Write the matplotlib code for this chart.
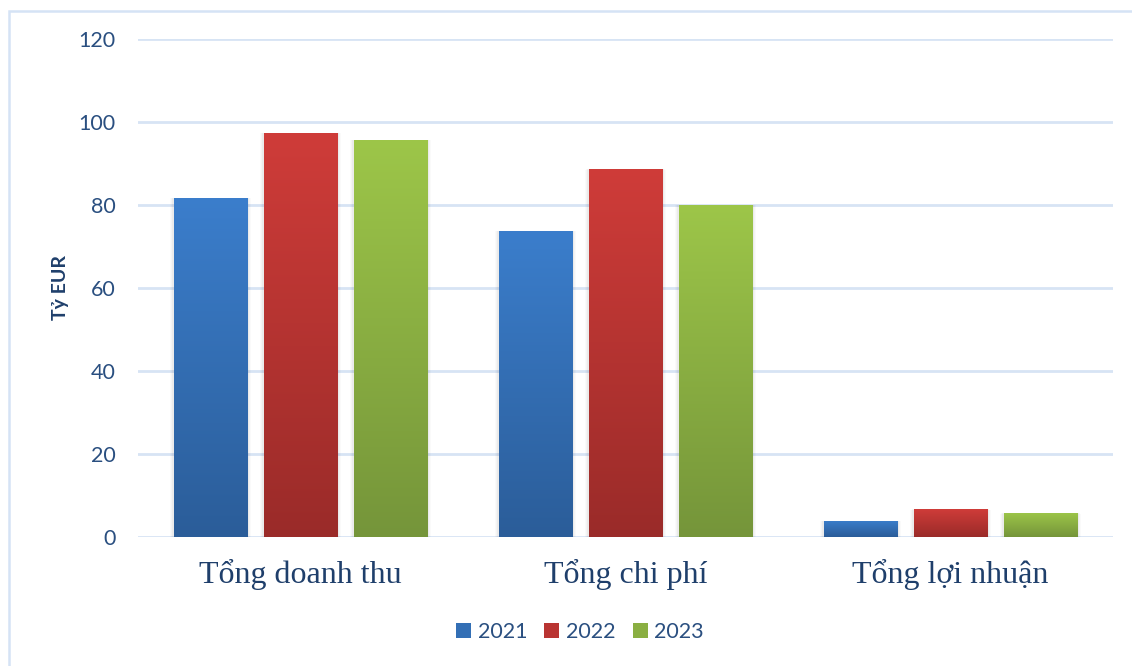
import numpy as np
import matplotlib
matplotlib.use("Agg")
import matplotlib.pyplot as plt
from matplotlib.patches import Rectangle, Patch
import matplotlib.colors as mcolors

categories = ["Tổng doanh thu", "Tổng chi phí", "Tổng lợi nhuận"]
years = ["2021", "2022", "2023"]
values_2021 = [81.8, 73.8, 3.9]
values_2022 = [97.4, 88.7, 6.7]
values_2023 = [95.7, 80.1, 5.8]
yticks = [0, 20, 40, 60, 80, 100, 120]
ylabel = "Tỷ EUR"

series = [values_2021, values_2022, values_2023]
top_colors = ["#3b7ecc", "#cf3c39", "#9dc649"]
bot_colors = ["#2b5d99", "#9a2b29", "#75953a"]

W, H = 1132, 666
fig = plt.figure(figsize=(W / 100, H / 100), dpi=100)
fig.patch.set_facecolor("white")

# outer chart border
fig.add_artist(Rectangle((8.5 / W, -0.02), 1.05, 1 - 10.5 / H + 0.02,
                         transform=fig.transFigure, fill=False,
                         edgecolor="#d5e3f5", linewidth=1.8, zorder=0))

ax = fig.add_axes([138 / W, 129 / H, 975 / W, 498 / H])
for s in ax.spines.values():
    s.set_visible(False)
ax.set_yticks(yticks)
ax.yaxis.grid(True, color="#d7e4f4", linewidth=2)
ax.set_axisbelow(True)
ax.tick_params(axis="y", length=0, pad=16, labelsize=15.5, labelcolor="#2a4f80")
ax.tick_params(axis="x", length=0, pad=16)

x = np.arange(len(categories))
bw = 74 / 325
step = 90 / 325

grad = np.linspace(0, 1, 256).reshape(-1, 1)
for i, vals in enumerate(series):
    pos = x + (i - 1) * step
    cmap = mcolors.LinearSegmentedColormap.from_list(
        f"g{i}", [bot_colors[i], top_colors[i]])
    bars = ax.bar(pos, vals, width=bw, color=top_colors[i], zorder=3,
                  label=years[i], linewidth=0)
    for b in bars:
        bx, by = b.get_x(), b.get_y()
        bwid, bh = b.get_width(), b.get_height()
        # soft shadow
        for k, a in enumerate([0.035, 0.025, 0.018]):
            d = 0.004 * (k + 1)
            ax.add_patch(Rectangle((bx - d, by - 0.25 * (k + 1)), bwid + 2 * d,
                                   bh + 0.2 * (k + 1), facecolor="#000000",
                                   alpha=a, linewidth=0, zorder=2))
        im = ax.imshow(grad, extent=[bx, bx + bwid, by, by + bh], origin="lower",
                       cmap=cmap, aspect="auto", zorder=4)
        im.set_clip_path(b)

ax.set_aspect("auto")
ax.set_xlim(-0.5, 2.5)
ax.set_ylim(0, 120)
ax.set_xticks(x)
ax.set_xticklabels(categories, fontfamily="Liberation Serif", fontsize=23,
                   color="#1f3f6b")
for lbl in ax.get_yticklabels():
    lbl.set_fontfamily("Lato")

ax.set_ylabel(ylabel, fontfamily="Lato", fontweight="bold", fontsize=14,
              color="#1f3f6b", labelpad=7)

leg_handles = [Patch(facecolor=c, edgecolor="none") for c in
               ["#336fb5", "#b93432", "#8aaf42"]]
leg = fig.legend(leg_handles, years, loc="center", bbox_to_anchor=(580 / W, 1 - 632 / H),
                 ncol=3, frameon=False, handlelength=0.7, handleheight=0.7,
                 handletextpad=0.3, columnspacing=0.8,
                 prop={"family": "Lato", "size": 15.5})
for t in leg.get_texts():
    t.set_color("#2a4f80")

fig.savefig("out.png", dpi=100, facecolor="white")
